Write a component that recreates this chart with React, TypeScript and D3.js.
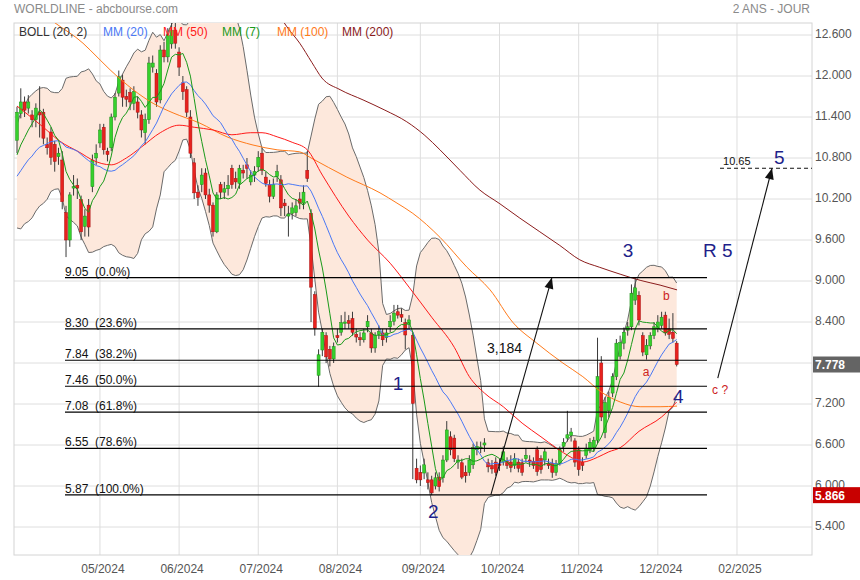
import React from "react";
import * as d3 from "d3";

// ---- DATA ----
const warmupCloses = [10.0, 9.85, 10.1, 10.25, 10.05, 10.3, 10.6, 10.45, 10.2, 10.55, 10.8, 10.9, 10.7, 10.6, 10.75, 10.85, 10.7, 10.9, 10.65];

const opens = [
  11.06, 11.45, 11.62, 11.53, 11.43, 11.36, 11.47, 11.47, 11.0, 11.18,
  11.0, 10.82, 10.77, 10.0, 9.6, 10.36, 10.4, 10.19, 9.8, 10.11,
  10.38, 10.8, 11.02, 11.25, 10.9, 10.95, 11.4, 11.75, 11.94, 11.7,
  11.76, 11.6, 11.62, 11.43, 11.17, 11.36, 12.13, 12.04, 11.65, 12.38,
  12.28, 12.47, 12.67, 12.35, 11.9, 11.8, 11.4, 10.73, 10.3, 10.41,
  10.58, 10.26, 10.11, 9.72, 10.41, 10.3, 10.35, 10.65, 10.5, 10.43,
  10.62, 10.7, 10.45, 10.55, 10.67, 10.87, 10.52, 10.41, 10.24, 10.53,
  10.48, 10.14, 9.95, 9.99, 10.0, 10.2, 10.14, 10.62, 9.99, 8.8,
  7.62, 7.99, 8.2, 8.0, 7.86, 8.2, 8.25, 8.38, 8.42, 8.45,
  8.22, 8.17, 8.14, 8.33, 8.24, 8.02, 8.22, 8.24, 8.17, 8.33,
  8.41, 8.55, 8.51, 8.39, 8.36, 8.2, 6.26, 6.2, 6.19, 6.09,
  6.09, 6.0, 6.13, 6.12, 6.38, 6.72, 6.7, 6.35, 6.34, 6.2,
  6.2, 6.31, 6.53, 6.55, 6.6, 6.34, 6.3, 6.35, 6.32, 6.35,
  6.36, 6.35, 6.3, 6.35, 6.34, 6.4, 6.38, 6.36, 6.53, 6.4,
  6.38, 6.33, 6.33, 6.2, 6.33, 6.58, 6.7, 6.74, 6.66, 6.53,
  6.35, 6.45, 6.53, 6.56, 6.67, 7.8, 6.78, 7.1, 7.36, 7.6,
  7.9, 8.09, 8.28, 8.33, 8.72, 8.79, 8.2, 7.92, 8.05, 8.2,
  8.3, 8.35, 8.5, 8.3, 8.25, 8.09,
];
const closes = [
  11.47, 11.62, 11.5, 11.62, 11.36, 11.53, 11.43, 11.09, 10.95, 10.81,
  10.75, 10.87, 10.16, 9.6, 10.26, 10.38, 10.36, 9.72, 9.95, 9.79,
  10.77, 10.87, 11.21, 10.92, 10.85, 11.4, 11.69, 11.99, 11.69, 11.66,
  11.62, 11.77, 11.47, 11.21, 11.36, 12.19, 12.19, 11.62, 12.38, 12.28,
  12.6, 12.67, 12.48, 12.13, 11.77, 11.47, 10.87, 10.29, 10.22, 10.55,
  10.26, 10.11, 9.72, 10.26, 10.3, 10.35, 10.4, 10.41, 10.45, 10.65,
  10.58, 10.65, 10.55, 10.6, 10.81, 10.62, 10.43, 10.24, 10.41, 10.6,
  10.07, 10.1, 9.98, 10.07, 10.1, 10.14, 10.3, 10.5, 8.91, 8.31,
  7.92, 8.25, 7.89, 7.86, 8.04, 8.17, 8.39, 8.4, 8.38, 8.25,
  8.18, 8.14, 8.24, 8.41, 8.02, 8.2, 8.26, 8.14, 8.24, 8.41,
  8.53, 8.5, 8.47, 8.21, 8.43, 7.21, 6.09, 6.09, 6.31, 6.05,
  5.9, 6.12, 5.99, 6.38, 6.82, 6.53, 6.4, 6.38, 6.13, 6.15,
  6.38, 6.56, 6.58, 6.57, 6.63, 6.28, 6.25, 6.2, 6.3, 6.5,
  6.3, 6.27, 6.4, 6.26, 6.2, 6.45, 6.35, 6.3, 6.21, 6.24,
  6.5, 6.3, 6.2, 6.33, 6.53, 6.64, 6.75, 6.79, 6.35, 6.24,
  6.3, 6.55, 6.64, 6.67, 7.6, 7.01, 7.22, 7.3, 7.6, 8.09,
  8.1, 8.25, 8.33, 8.82, 8.9, 8.43, 7.96, 8.06, 8.2, 8.33,
  8.4, 8.47, 8.24, 8.22, 8.16, 7.778,
];
const highs = [
  11.55, 11.82, 11.7, 11.72, 11.5, 11.6, 11.85, 11.52, 11.1, 11.25,
  11.05, 10.95, 10.9, 10.1, 10.3, 10.55, 10.5, 10.25, 10.05, 10.2,
  10.85, 11.0, 11.3, 11.3, 10.95, 11.45, 11.75, 12.08, 12.02, 11.8,
  11.82, 11.85, 11.7, 11.5, 11.45, 12.28, 12.3, 12.1, 12.45, 12.5,
  12.7, 12.78, 12.8, 12.42, 12.0, 11.85, 11.5, 10.8, 10.4, 10.65,
  10.65, 10.35, 10.15, 10.3, 10.45, 10.45, 10.55, 10.7, 10.6, 10.7,
  10.7, 10.8, 10.62, 10.68, 10.9, 10.95, 10.6, 10.48, 10.5, 10.7,
  10.55, 10.2, 10.1, 10.15, 10.2, 10.3, 10.4, 10.9, 10.05, 8.85,
  8.0, 8.3, 8.25, 8.05, 8.1, 8.3, 8.5, 8.55, 8.5, 8.55,
  8.3, 8.25, 8.3, 8.5, 8.3, 8.25, 8.35, 8.3, 8.3, 8.5,
  8.65, 8.65, 8.6, 8.45, 8.5, 8.25, 6.4, 6.3, 6.4, 6.2,
  6.15, 6.2, 6.2, 6.45, 6.95, 6.8, 6.75, 6.45, 6.4, 6.3,
  6.45, 6.62, 6.65, 6.65, 6.7, 6.4, 6.38, 6.42, 6.4, 6.58,
  6.42, 6.45, 6.48, 6.4, 6.4, 6.55, 6.45, 6.42, 6.58, 6.45,
  6.55, 6.4, 6.4, 6.38, 6.58, 6.7, 7.1, 6.85, 6.7, 6.58,
  6.42, 6.62, 6.7, 6.72, 8.17, 7.9, 7.3, 7.38, 7.65, 8.15,
  8.2, 8.32, 8.4, 8.95, 9.05, 8.85, 8.25, 8.15, 8.25, 8.4,
  8.5, 8.55, 8.55, 8.45, 8.53, 8.12,
];
const lows = [
  10.87, 11.38, 11.4, 11.45, 11.25, 11.25, 11.1, 11.0, 10.85, 10.7,
  10.6, 10.7, 10.05, 9.35, 9.5, 10.25, 10.2, 9.6, 9.65, 9.65,
  10.3, 10.7, 10.95, 10.85, 10.75, 10.9, 11.35, 11.7, 11.55, 11.55,
  11.5, 11.5, 11.38, 11.1, 11.0, 11.3, 12.05, 11.55, 11.6, 12.2,
  12.2, 12.4, 12.4, 12.0, 11.65, 11.4, 10.8, 10.2, 10.1, 10.3,
  10.2, 10.0, 9.65, 9.7, 10.2, 10.2, 10.25, 10.35, 10.35, 10.35,
  10.5, 10.5, 10.4, 10.45, 10.6, 10.55, 10.38, 10.15, 10.2, 10.45,
  9.95, 9.95, 9.65, 9.9, 9.95, 10.05, 10.05, 10.45, 8.4, 8.2,
  7.45, 7.9, 7.8, 7.75, 7.8, 8.1, 8.2, 8.3, 8.3, 8.2,
  8.1, 8.05, 8.1, 8.25, 7.95, 7.95, 8.15, 8.05, 8.1, 8.25,
  8.35, 8.45, 8.4, 8.0, 8.3, 6.1, 6.04, 6.0, 6.1, 5.95,
  5.866, 5.95, 5.92, 6.05, 6.35, 6.45, 6.35, 6.25, 6.1, 6.05,
  6.15, 6.25, 6.45, 6.48, 6.5, 6.2, 6.18, 6.15, 6.22, 6.3,
  6.25, 6.2, 6.25, 6.2, 6.15, 6.35, 6.28, 6.25, 6.15, 6.18,
  6.3, 6.25, 6.12, 6.15, 6.3, 6.5, 6.65, 6.65, 6.28, 6.15,
  6.22, 6.4, 6.48, 6.5, 6.62, 6.95, 6.7, 7.0, 7.3, 7.55,
  7.85, 8.0, 8.2, 8.28, 8.65, 8.35, 7.9, 7.85, 8.0, 8.15,
  8.25, 8.3, 8.2, 8.15, 8.1, 7.75,
];

// long moving averages: [bar index, value]
const mm50Points: [number, number][] = [
  [0, 11.56], [7, 11.25], [11, 11.06], [17, 10.87], [20, 10.77], [25, 10.7], [29, 10.8], [33, 10.96],
  [38, 11.17], [43, 11.28], [47, 11.25], [52, 11.21], [57, 11.14], [62, 11.17], [65, 11.17], [69, 11.11],
  [73, 11.03], [77, 10.92], [81, 10.55], [88, 9.95], [93, 9.6], [99, 9.26], [104, 8.91], [110, 8.47],
  [116, 8.03], [120, 7.6], [124, 7.36], [129, 7.16], [134, 6.92], [139, 6.72], [143, 6.56], [147, 6.42],
  [150, 6.35], [154, 6.42], [157, 6.5], [160, 6.56], [165, 6.8], [171, 7.01], [175, 7.23],
];
const mm100Points: [number, number][] = [
  [0, 13.2], [10, 12.78], [17.5, 12.48], [19.4, 12.38], [24.7, 12.09], [30.8, 11.8], [36.1, 11.6], [41.4, 11.46],
  [48.5, 11.31], [55.7, 11.11], [62.6, 10.99], [69, 10.92], [75, 10.89], [77.7, 10.81], [87.5, 10.52],
  [96.3, 10.29], [100.8, 10.14], [105, 9.99], [112.2, 9.64], [119.4, 9.2], [125.5, 8.87], [131.6, 8.39],
  [137.9, 8.09], [144.8, 7.8], [150.1, 7.6], [155.4, 7.36], [160, 7.23], [165.3, 7.16], [170.6, 7.16], [175.1, 7.17],
];
const mm200Points: [number, number][] = [
  [70, 12.85], [71.6, 12.72], [75, 12.48], [78.2, 12.2], [80.9, 11.97], [85.7, 11.8], [91.8, 11.65],
  [97.6, 11.5], [103.4, 11.33], [108.2, 11.13], [112.2, 10.92], [117.5, 10.62], [122.8, 10.33],
  [128.1, 10.13], [133.4, 9.92], [138.7, 9.72], [144, 9.52], [149.3, 9.31], [154.6, 9.2], [160, 9.1],
  [165.3, 9.01], [170.6, 8.94], [175.1, 8.87],
];

const yTicks = [12.6, 12.0, 11.4, 10.8, 10.2, 9.6, 9.0, 8.4, 7.8, 7.2, 6.6, 6.0, 5.4];
const monthTickIdx = [22, 43, 64, 85, 107, 128, 149, 170, 191];
const monthLabels = ["05/2024", "06/2024", "07/2024", "08/2024", "09/2024", "10/2024", "11/2024", "12/2024", "02/2025"];

const fibLevels = [9.05, 8.3, 7.84, 7.46, 7.08, 6.55, 5.87];
const fibPercents = ["0.0%", "23.6%", "38.2%", "50.0%", "61.8%", "78.6%", "100.0%"];

const waveLabels = [
  { t: "1", i: 99.7, v: 7.405 },
  { t: "2", i: 109, v: 5.532 },
  { t: "3", i: 160.7, v: 9.356 },
  { t: "4", i: 174, v: 7.215 },
  { t: "R 5", i: 182, v: 9.356 },
  { t: "5", i: 200.8, v: 10.712 },
];
const subLabels = [
  { t: "a", i: 166, v: 7.617 },
  { t: "b", i: 171.4, v: 8.722 },
  { t: "c ?", i: 184.4, v: 7.346 },
];
const arrows = [
  { i0: 125.7, v0: 5.87, i1: 141.9, v1: 9.05 },
  { i0: 185.9, v0: 7.58, i1: 200.3, v1: 10.65 },
];
const target = { value: 10.65, label: "10.65", from: 186.5 };
const spreadText = { t: "3,184", i: 124.7, v: 7.946 };
const lastPrice = 7.778;
const lowPrice = 5.866;

const legendItems = [
  { t: "BOLL (20, 2)", c: "#333333", x: 19 },
  { t: "MM (20)", c: "#4a78f5", x: 103 },
  { t: "MM (50)", c: "#ff1a1a", x: 163 },
  { t: "MM (7)", c: "#1a9a1a", x: 222 },
  { t: "MM (100)", c: "#ff7a1a", x: 277 },
  { t: "MM (200)", c: "#8b1c1c", x: 342 },
];

export default function App() {
  const x = d3.scaleLinear().domain([-0.8, 210.9]).range([14, 812]);
  const y = d3.scaleLinear().domain([5.4, 12.6]).range([527, 35]);
  const L = 14, R = 812, T = 23, B = 555;

  const W = warmupCloses.length;
  const all = warmupCloses.concat(closes);
  const sma = (n: number) =>
    closes.map((_, i) => d3.mean(all.slice(i + W - n + 1, i + W + 1)) as number);
  const mm7 = sma(7);
  const mm20 = sma(20);
  const boll = closes.map((_, i) => {
    const w = all.slice(i + W - 19, i + W + 1);
    const m = d3.mean(w) as number;
    const sd = Math.sqrt(d3.mean(w.map((v) => (v - m) * (v - m))) as number);
    return { up: m + 2 * sd, lo: m - 2 * sd };
  });

  const idxLine = d3.line<number>().x((_, i) => x(i)).y((d) => y(d));
  const ptLine = d3
    .line<[number, number]>()
    .x((d) => x(d[0]))
    .y((d) => y(d[1]))
    .curve(d3.curveMonotoneX);
  const bandArea = d3
    .area<{ up: number; lo: number }>()
    .x((_, i) => x(i))
    .y0((d) => y(d.lo))
    .y1((d) => y(d.up));
  const upLine = d3.line<{ up: number; lo: number }>().x((_, i) => x(i)).y((d) => y(d.up));
  const loLine = d3.line<{ up: number; lo: number }>().x((_, i) => x(i)).y((d) => y(d.lo));

  const arrowHead = (x0: number, y0: number, x1: number, y1: number) => {
    const a = Math.atan2(y1 - y0, x1 - x0);
    const len = 11, wid = 4.5;
    const bx = x1 - len * Math.cos(a), by = y1 - len * Math.sin(a);
    const px = -Math.sin(a) * wid, py = Math.cos(a) * wid;
    return `M${x1},${y1}L${bx + px},${by + py}L${bx - px},${by - py}Z`;
  };

  return (
    <svg
      width={860}
      height={580}
      style={{ position: "absolute", left: 0, top: 0, background: "#fff" }}
      fontFamily="Arial, 'Liberation Sans', sans-serif"
    >
      <defs>
        <clipPath id="plotclip">
          <rect x={L} y={T} width={R - L} height={B - T} />
        </clipPath>
      </defs>
      <rect x={0} y={0} width={860} height={580} fill="#fff" />

      {/* header */}
      <text x={14} y={13} fontSize={12} fill="#8a8a8a">WORLDLINE - abcbourse.com</text>
      <text x={810} y={13} fontSize={12} fill="#8a8a8a" textAnchor="end">2 ANS - JOUR</text>

      {/* grid */}
      {yTicks.map((t) => (
        <line key={"gy" + t} x1={L} x2={R} y1={y(t)} y2={y(t)} stroke="#dedede" />
      ))}
      {monthTickIdx.map((t) => (
        <line key={"gx" + t} x1={x(t)} x2={x(t)} y1={T} y2={B} stroke="#dedede" />
      ))}
      <rect x={L} y={T} width={R - L} height={B - T} fill="none" stroke="#d4d4d4" />

      <g clipPath="url(#plotclip)">
        {/* bollinger */}
        <path d={bandArea(boll) || ""} fill="#fde8dc" />
        <path d={upLine(boll) || ""} fill="none" stroke="#6a6a6a" strokeWidth={1} />
        <path d={loLine(boll) || ""} fill="none" stroke="#6a6a6a" strokeWidth={1} />

        {/* candles */}
        {closes.map((c, i) => {
          const o = opens[i];
          const up = c >= o;
          const yt = y(Math.max(o, c));
          const yb = y(Math.min(o, c));
          return (
            <g key={"c" + i}>
              <line x1={x(i)} x2={x(i)} y1={y(highs[i])} y2={y(lows[i])} stroke="#3a3a3a" strokeWidth={1} />
              <rect
                x={x(i) - 1.5}
                y={yt}
                width={3}
                height={Math.max(1, yb - yt)}
                fill={up ? "#36d12c" : "#e8221e"}
                stroke={up ? "#1f8f1a" : "#a81010"}
                strokeWidth={0.5}
              />
            </g>
          );
        })}

        {/* moving averages */}
        <path d={ptLine(mm200Points) || ""} fill="none" stroke="#8b1c1c" strokeWidth={1} />
        <path d={ptLine(mm100Points) || ""} fill="none" stroke="#ff7a1a" strokeWidth={1} />
        <path d={ptLine(mm50Points) || ""} fill="none" stroke="#ff1a1a" strokeWidth={1} />
        <path d={idxLine(mm20) || ""} fill="none" stroke="#4a78f5" strokeWidth={1} />
        <path d={idxLine(mm7) || ""} fill="none" stroke="#1a9a1a" strokeWidth={1} />
      </g>

      {/* fibonacci levels */}
      {fibLevels.map((f, k) => (
        <g key={"f" + k}>
          <line x1={65} x2={707} y1={y(f)} y2={y(f)} stroke="#000" strokeWidth={1.2} />
          <text x={65} y={y(f) - 2} fontSize={12} fill="#111" style={{ whiteSpace: "pre" }}>
            {f.toFixed(2) + "  (" + fibPercents[k] + ")"}
          </text>
        </g>
      ))}

      {/* arrows */}
      {arrows.map((a, k) => {
        const x0 = x(a.i0), y0 = y(a.v0), x1 = x(a.i1), y1 = y(a.v1);
        return (
          <g key={"a" + k}>
            <line x1={x0} y1={y0} x2={x1} y2={y1} stroke="#111" strokeWidth={1.1} />
            <path d={arrowHead(x0, y0, x1, y1)} fill="#111" />
          </g>
        );
      })}

      {/* target */}
      <line x1={x(target.from)} x2={R} y1={y(target.value)} y2={y(target.value)} stroke="#111" strokeDasharray="4,3" />
      <text x={x(187.3)} y={y(target.value) - 3} fontSize={11} fill="#111">{target.label}</text>

      <text x={x(spreadText.i)} y={y(spreadText.v)} fontSize={14} fill="#111">{spreadText.t}</text>

      {waveLabels.map((w) => (
        <text key={"w" + w.t} x={x(w.i)} y={y(w.v)} fontSize={19} fill="#1f1f8a">{w.t}</text>
      ))}
      {subLabels.map((w) => (
        <text key={"s" + w.t} x={x(w.i)} y={y(w.v)} fontSize={12} fill="#cc2222">{w.t}</text>
      ))}

      {/* legend */}
      {legendItems.map((l) => (
        <text key={l.t} x={l.x} y={36} fontSize={12} fill={l.c}>{l.t}</text>
      ))}

      {/* y axis */}
      {yTicks.map((t) => (
        <text key={"yl" + t} x={815} y={y(t) + 3} fontSize={12} fill="#555">{t.toFixed(3)}</text>
      ))}
      {/* x axis */}
      {monthTickIdx.map((t, k) => (
        <text key={"xl" + t} x={x(t) + 3} y={573} fontSize={12} fill="#555" textAnchor="middle">{monthLabels[k]}</text>
      ))}

      {/* price boxes */}
      <rect x={813} y={y(lastPrice) - 8} width={47} height={16} fill="#646464" />
      <text x={815} y={y(lastPrice) + 4.5} fontSize={12} fontWeight="bold" fill="#fff">{lastPrice.toFixed(3)}</text>
      <rect x={813} y={y(lowPrice) - 8} width={47} height={16} fill="#c80000" />
      <text x={815} y={y(lowPrice) + 4.5} fontSize={12} fontWeight="bold" fill="#fff">{lowPrice.toFixed(3)}</text>
    </svg>
  );
}
